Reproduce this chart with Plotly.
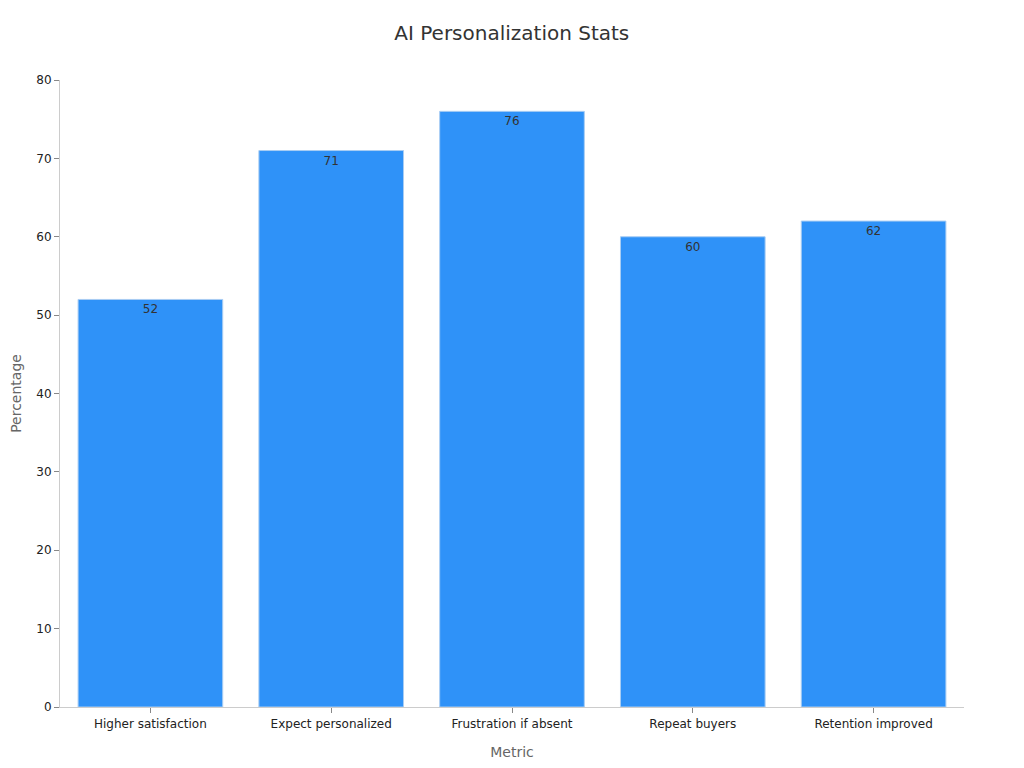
import plotly.graph_objects as go

categories = ["Higher satisfaction", "Expect personalized", "Frustration if absent", "Repeat buyers", "Retention improved"]
values = [52, 71, 76, 60, 62]

fig = go.Figure(go.Bar(
    x=categories, y=values,
    text=values, textposition="inside", insidetextanchor="end",
    textfont=dict(family="DejaVu Sans", size=12, color="#333333"),
    marker=dict(color="#2F92F8", line=dict(color="#A9CDF3", width=1)),
))

fig.update_layout(
    width=1024, height=768,
    paper_bgcolor="white", plot_bgcolor="white",
    font=dict(family="DejaVu Sans", size=12, color="#222222"),
    title=dict(text="AI Personalization Stats", x=0.492, xanchor="center", y=0.967, yanchor="middle",
               font=dict(size=20, color="#333333")),
    margin=dict(l=52, r=68, t=72, b=69),
    bargap=0.2,
    showlegend=False,
    xaxis=dict(title=dict(text="Metric", font=dict(size=14, color="#666666"), standoff=16),
               showline=True, linecolor="#CCCCCC", linewidth=1, automargin=False,
               ticks="outside", ticklen=5, tickcolor="#888888", showgrid=False,
               ticklabelstandoff=1),
    yaxis=dict(title=dict(text="Percentage", font=dict(size=14, color="#666666"), standoff=18),
               range=[0, 80], dtick=10, automargin=False,
               showline=True, linecolor="#CCCCCC", linewidth=1,
               ticks="outside", ticklen=5, tickcolor="#888888", showgrid=False, zeroline=False),
)

fig.write_html("out.html")
